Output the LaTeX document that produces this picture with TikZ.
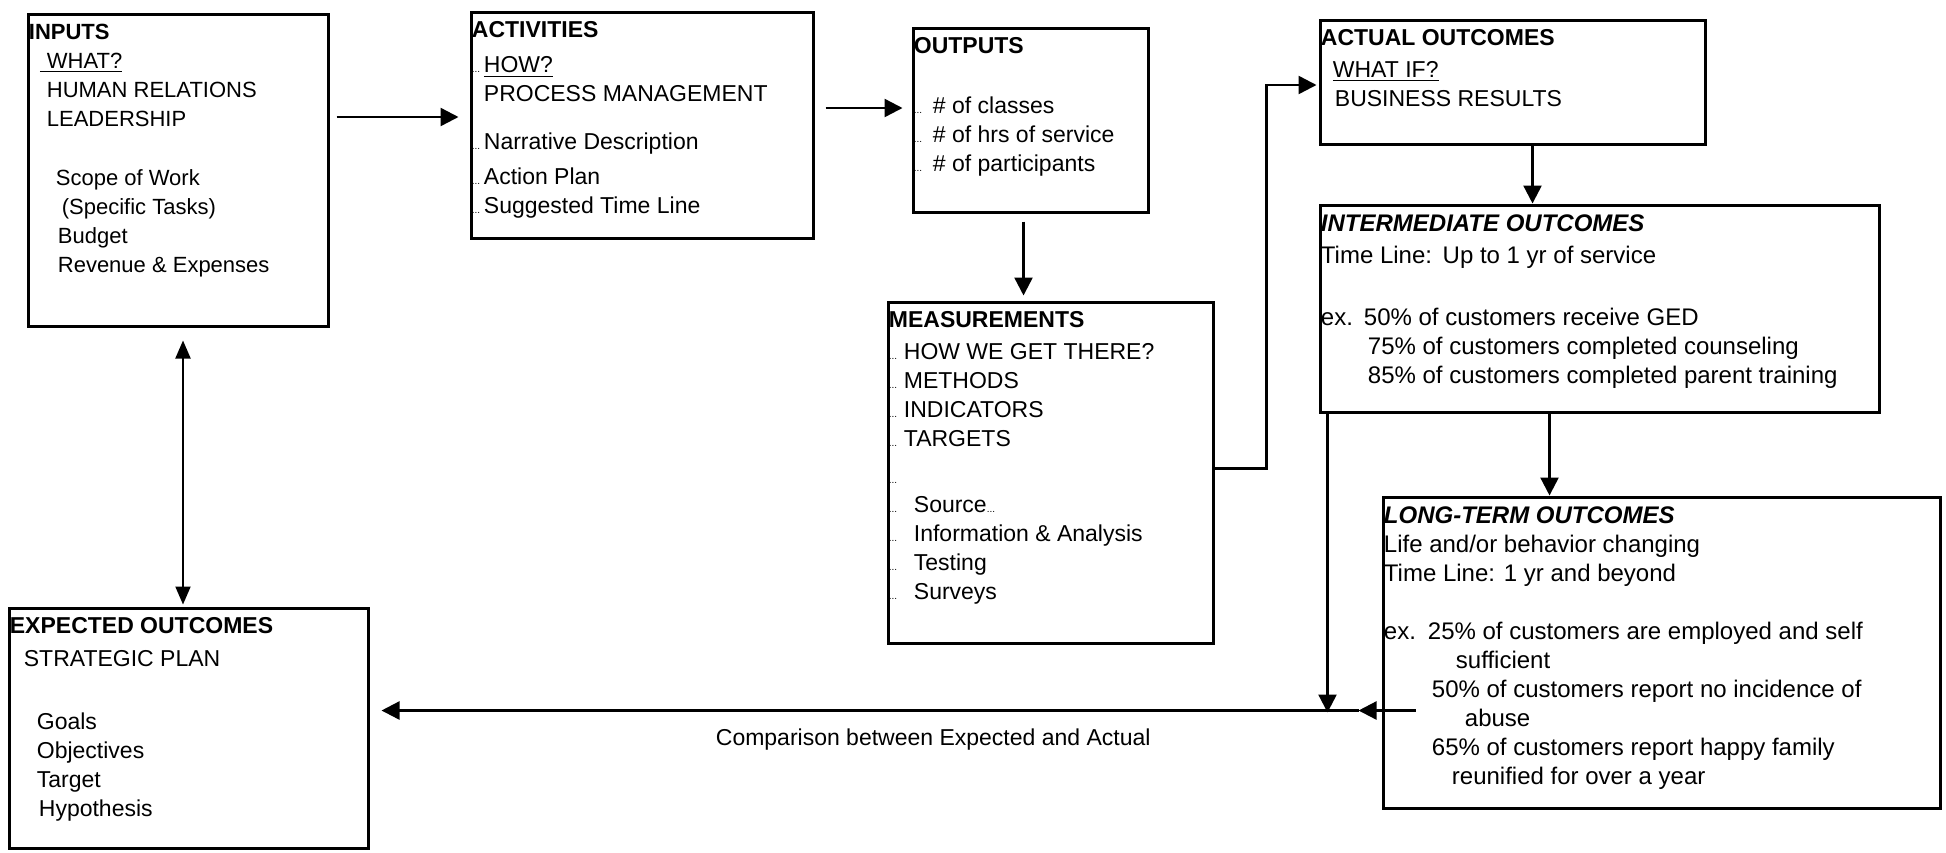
\documentclass[tikz,border=0pt]{standalone}
\usepackage{fontspec}
\setmainfont{Liberation Sans}
\usetikzlibrary{arrows.meta,fit}

% small leader dots in front of a line
\newcommand{\dotlead}[1]{\makebox[#1][l]{\tiny...}}

\tikzset{
  box/.style={draw, line width=1.5pt, inner sep=0pt},
  txt/.style={anchor=north west, align=left, inner xsep=1pt, inner ysep=5.5pt,
    font=\fontsize{#1}{14.5pt}\selectfont},
  txt/.default=11.5pt,
  arr/.style={line width=1.2pt, -{Triangle[length=9pt,width=9pt]}},
  dbl/.style={line width=1pt, {Triangle[length=9pt,width=7.5pt]}-{Triangle[length=9pt,width=7.5pt]}}
}

\begin{document}
\begin{tikzpicture}[x=0.5pt,y=-0.5pt]
\useasboundingbox (0,0) rectangle (1946,852);

% the boxes
\node[box, fit={(28,14) (328,326)}] (inputs) {};
\node[box, fit={(471,12) (813,238)}] (activities) {};
\node[box, fit={(913,28) (1148,212)}] (outputs) {};
\node[box, fit={(888,302) (1213,643)}] (measurements) {};
\node[box, fit={(1320,20) (1705,144)}] (actual) {};
\node[box, fit={(1320,205) (1879,412)}] (intermediate) {};
\node[box, fit={(1383,497) (1940,808)}] (longterm) {};
\node[box, fit={(9,608) (368,848)}] (expected) {};

% texts
\node[txt=11pt] (inputs-txt) at (inputs.north west) {%
\textbf{INPUTS}\\
\hspace*{5.5pt}\underline{\hspace{3.5pt}WHAT?}\\
\hspace*{9pt}HUMAN RELATIONS\\
\hspace*{9pt}LEADERSHIP\\[15pt]
\hspace*{13.5pt}Scope of Work\\
\hspace*{16.5pt}(Specific Tasks)\\
\hspace*{14.5pt}Budget\\
\hspace*{14.5pt}Revenue \& Expenses};

\node[txt] (activities-txt) at (activities.north west) {%
\textbf{ACTIVITIES}\\[3pt]
\dotlead{6pt}\underline{HOW?}\\
\hspace*{6pt}PROCESS MANAGEMENT\\[9.5pt]
\dotlead{6pt}Narrative Description\\[3pt]
\dotlead{6pt}Action Plan\\
\dotlead{6pt}Suggested Time Line};

\node[txt] (outputs-txt) at (outputs.north west) {%
\textbf{OUTPUTS}\\[15.5pt]
\dotlead{9.5pt}\# of classes\\
\dotlead{9.5pt}\# of hrs of service\\
\dotlead{9.5pt}\# of participants};

\node[txt] (measurements-txt) at (measurements.north west) {%
\textbf{MEASUREMENTS}\\[1.5pt]
\dotlead{7.5pt}HOW WE GET THERE?\\
\dotlead{7.5pt}METHODS\\
\dotlead{7.5pt}INDICATORS\\
\dotlead{7.5pt}TARGETS\\[4pt]
\dotlead{7.5pt}\\
\dotlead{12.5pt}Source{\tiny...}\\
\dotlead{12.5pt}Information \& Analysis\\
\dotlead{12.5pt}Testing\\
\dotlead{12.5pt}Surveys};

\node[txt] (actual-txt) at (actual.north west) {%
\textbf{ACTUAL OUTCOMES}\\[1.5pt]
\hspace*{6pt}\underline{WHAT IF?}\\
\hspace*{7pt}BUSINESS RESULTS};

\node[txt=12pt] (intermediate-txt) at (intermediate.north west) {%
\textbf{\textit{INTERMEDIATE OUTCOMES}}\\[1.5pt]
Time Line:\ \,Up to 1 yr of service\\[16.5pt]
\makebox[21.5pt][l]{ex.}50\% of customers receive GED\\
\hspace*{23.5pt}75\% of customers completed counseling\\
\hspace*{23.5pt}85\% of customers completed parent training};

\node[txt=12pt] (longterm-txt) at (longterm.north west) {%
\textbf{\textit{LONG-TERM OUTCOMES}}\\
Life and/or behavior changing\\
Time Line: 1 yr and beyond\\[14.5pt]
\makebox[22pt][l]{ex.}25\% of customers are employed and self\\
\hspace*{36pt}sufficient\\
\hspace*{24pt}50\% of customers report no incidence of\\
\hspace*{40.5pt}abuse\\
\hspace*{24pt}65\% of customers report happy family\\
\hspace*{34pt}reunified for over a year};

\node[txt] (expected-txt) at (expected.north west) {%
\textbf{EXPECTED OUTCOMES}\\[2pt]
\hspace*{7pt}STRATEGIC PLAN\\[17pt]
\hspace*{13.5pt}Goals\\
\hspace*{13.5pt}Objectives\\
\hspace*{13.5pt}Target\\
\hspace*{14.5pt}Hypothesis};

% connector ends
\coordinate (a-in) at ([yshift=4pt]activities.west);
\coordinate (o-in) at ([yshift=6pt]outputs.west);
\coordinate (o-out) at ([xshift=-3.5pt]outputs.south);
\coordinate (m-out) at ([yshift=2pt]measurements.east);
\coordinate (ac-in) at ([yshift=-1.5pt]actual.west);
\coordinate (ac-out) at ([xshift=10pt]actual.south);
\coordinate (im-out) at ([xshift=-25pt]intermediate.south);
\coordinate (im-drop) at ([xshift=4.5pt]intermediate.south west);
\coordinate (meet) at ([yshift=-29pt]longterm.west);
\coordinate (meet-r) at ([xshift=17pt]meet);
\coordinate (mid) at ([xshift=-11.5pt]meet);
\coordinate (in-out) at ([xshift=2.5pt]inputs.south);

% connectors
\draw[arr, shorten <=3.5pt, shorten >=5.5pt] (inputs.east |- a-in) -- (a-in);
\draw[arr, shorten <=5.5pt, shorten >=4.5pt] (activities.east |- o-in) -- (o-in);
\draw[arr, shorten <=4pt, shorten >=2.5pt] (o-out) -- (o-out |- measurements.north);
\draw[arr, shorten >=1pt] (m-out) -- ++(52,0) |- (ac-in);
\draw[arr] (ac-out) -- (ac-out |- intermediate.north);
\draw[arr] (im-out) -- (im-out |- longterm.north);
\draw[arr, shorten >=-1pt] (im-drop) -- (im-drop |- meet);
\draw[arr] (meet-r) -- (mid);
\draw[arr, shorten >=6pt] (mid) -- (expected.east |- meet)
  node[pos=0.43, below=5pt, font=\fontsize{11.5pt}{14pt}\selectfont] (cmp)
  {Comparison between Expected and Actual};
\draw[dbl, shorten <=6.5pt, shorten >=1pt] (in-out) -- (in-out |- expected.north);

\end{tikzpicture}
\end{document}
